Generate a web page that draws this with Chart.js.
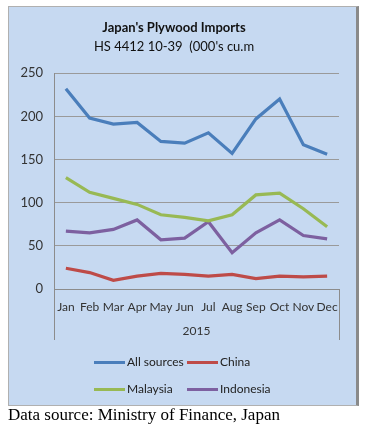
<!DOCTYPE html>
<html>
<head>
<meta charset="utf-8">
<script src="https://cdn.jsdelivr.net/npm/chart.js@4.4.1/dist/chart.umd.min.js"></script>
<style>
  body { margin: 0; background: #fff; width: 367px; height: 433px; position: relative; overflow: hidden; }
  #box {
    position: absolute; left: 8px; top: 6px; width: 347px; height: 398px;
    background: #c6d9f1; border: 1px solid #b0b0b0; border-right: 3px solid #8a8a8a;
  }
  #chartWrap { position: absolute; left: 0; top: 0; width: 347px; height: 398px; }
  .legend { position: absolute; font: 12px Lato, sans-serif; color: #222; }
  .legend .item { position: absolute; white-space: nowrap; }
  .legend .swatch { display: inline-block; width: 31px; height: 3px; vertical-align: middle; margin-right: 2px; }
  #source { position: absolute; left: 8px; top: 405px; font: 17px "Liberation Serif", "Times New Roman", serif; color: #000; }
</style>
</head>
<body>
<div id="box">
  <div id="chartWrap"><canvas id="plywoodChart"></canvas></div>
  <div class="legend" id="legend"></div>
</div>
<div id="source">Data source: Ministry of Finance, Japan</div>
<script>
// Japan plywood imports by month, 2015 (000's cu.m)
const months = ['Jan', 'Feb', 'Mar', 'Apr', 'May', 'Jun', 'Jul', 'Aug', 'Sep', 'Oct', 'Nov', 'Dec'];
const yearLabel = '2015';
const allSources = [232, 198, 191, 193, 171, 169, 181, 157, 197, 220, 167, 156];
const china = [24, 19, 10, 15, 18, 17, 15, 17, 12, 15, 14, 15];
const malaysia = [129, 112, 105, 98, 86, 83, 79, 86, 109, 111, 93, 72];
const indonesia = [67, 65, 69, 80, 57, 59, 78, 42, 65, 80, 62, 58];
const yTicks = [0, 50, 100, 150, 200, 250];

const seriesInfo = [
  { label: 'All sources', data: allSources, color: '#4a7ebb' },
  { label: 'China', data: china, color: '#be4b48' },
  { label: 'Malaysia', data: malaysia, color: '#98b954' },
  { label: 'Indonesia', data: indonesia, color: '#7d60a0' }
];

// draws the year row under the month labels, with the separators at each end
const yearGroupPlugin = {
  id: 'yearGroup',
  afterDraw(chart) {
    const { ctx, chartArea } = chart;
    ctx.save();
    ctx.strokeStyle = '#8c8c8c';
    ctx.lineWidth = 1;
    [chartArea.left, chartArea.right].forEach(x => {
      ctx.beginPath();
      ctx.moveTo(Math.round(x) + 0.5, chartArea.bottom);
      ctx.lineTo(Math.round(x) + 0.5, chartArea.bottom + 51);
      ctx.stroke();
    });
    ctx.fillStyle = '#333';
    ctx.font = '12px Lato, sans-serif';
    ctx.textAlign = 'center';
    ctx.textBaseline = 'middle';
    ctx.fillText(yearLabel, (chartArea.left + chartArea.right) / 2, chartArea.bottom + 42);
    ctx.restore();
  }
};

const ctx = document.getElementById('plywoodChart');
new Chart(ctx.getContext('2d'), {
  type: 'line',
  data: {
    labels: months,
    datasets: seriesInfo.map(s => ({
      label: s.label,
      data: s.data,
      borderColor: s.color,
      backgroundColor: s.color,
      borderWidth: 3.2,
      pointRadius: 0,
      tension: 0
    }))
  },
  options: {
    responsive: true,
    maintainAspectRatio: false,
    animation: false,
    layout: { padding: { left: 0, right: 17, top: 0, bottom: 0 } },
    plugins: {
      legend: { display: false },
      tooltip: { enabled: false },
      title: {
        display: true,
        text: "Japan's Plywood Imports",
        color: '#111',
        font: { family: 'Lato', size: 13, weight: 'bold' },
        padding: { top: 13, bottom: 3 }
      },
      subtitle: {
        display: true,
        text: "HS 4412 10-39  (000's cu.m",
        color: '#111',
        font: { family: 'Lato', size: 13 },
        padding: { top: 0, bottom: 19 }
      }
    },
    scales: {
      x: {
        offset: true,
        grid: { display: false, drawTicks: false },
        border: { display: true, color: '#8c8c8c' },
        ticks: { color: '#333', font: { family: 'Lato', size: 12 }, padding: 11, maxRotation: 0, autoSkip: false },
        afterFit(scale) { scale.height = 116; }
      },
      y: {
        min: 0,
        max: 250,
        afterBuildTicks(scale) { scale.ticks = yTicks.map(v => ({ value: v })); },
        grid: { color: '#9a9a9a', drawTicks: false },
        border: { display: true, color: '#8c8c8c' },
        ticks: { color: '#333', font: { family: 'Lato', size: 13 }, padding: 11 },
        afterFit(scale) { scale.width = 45; }
      }
    }
  },
  plugins: [yearGroupPlugin]
});

// legend in two aligned rows
const legendEl = document.getElementById('legend');
const legendPos = [[85, 347], [178, 347], [85, 374], [178, 374]];
seriesInfo.forEach((s, i) => {
  const item = document.createElement('div');
  item.className = 'item';
  item.style.left = legendPos[i][0] + 'px';
  item.style.top = legendPos[i][1] + 'px';
  item.innerHTML = '<span class="swatch" style="background:' + s.color + '"></span>' + s.label;
  legendEl.appendChild(item);
});
</script>
</body>
</html>
